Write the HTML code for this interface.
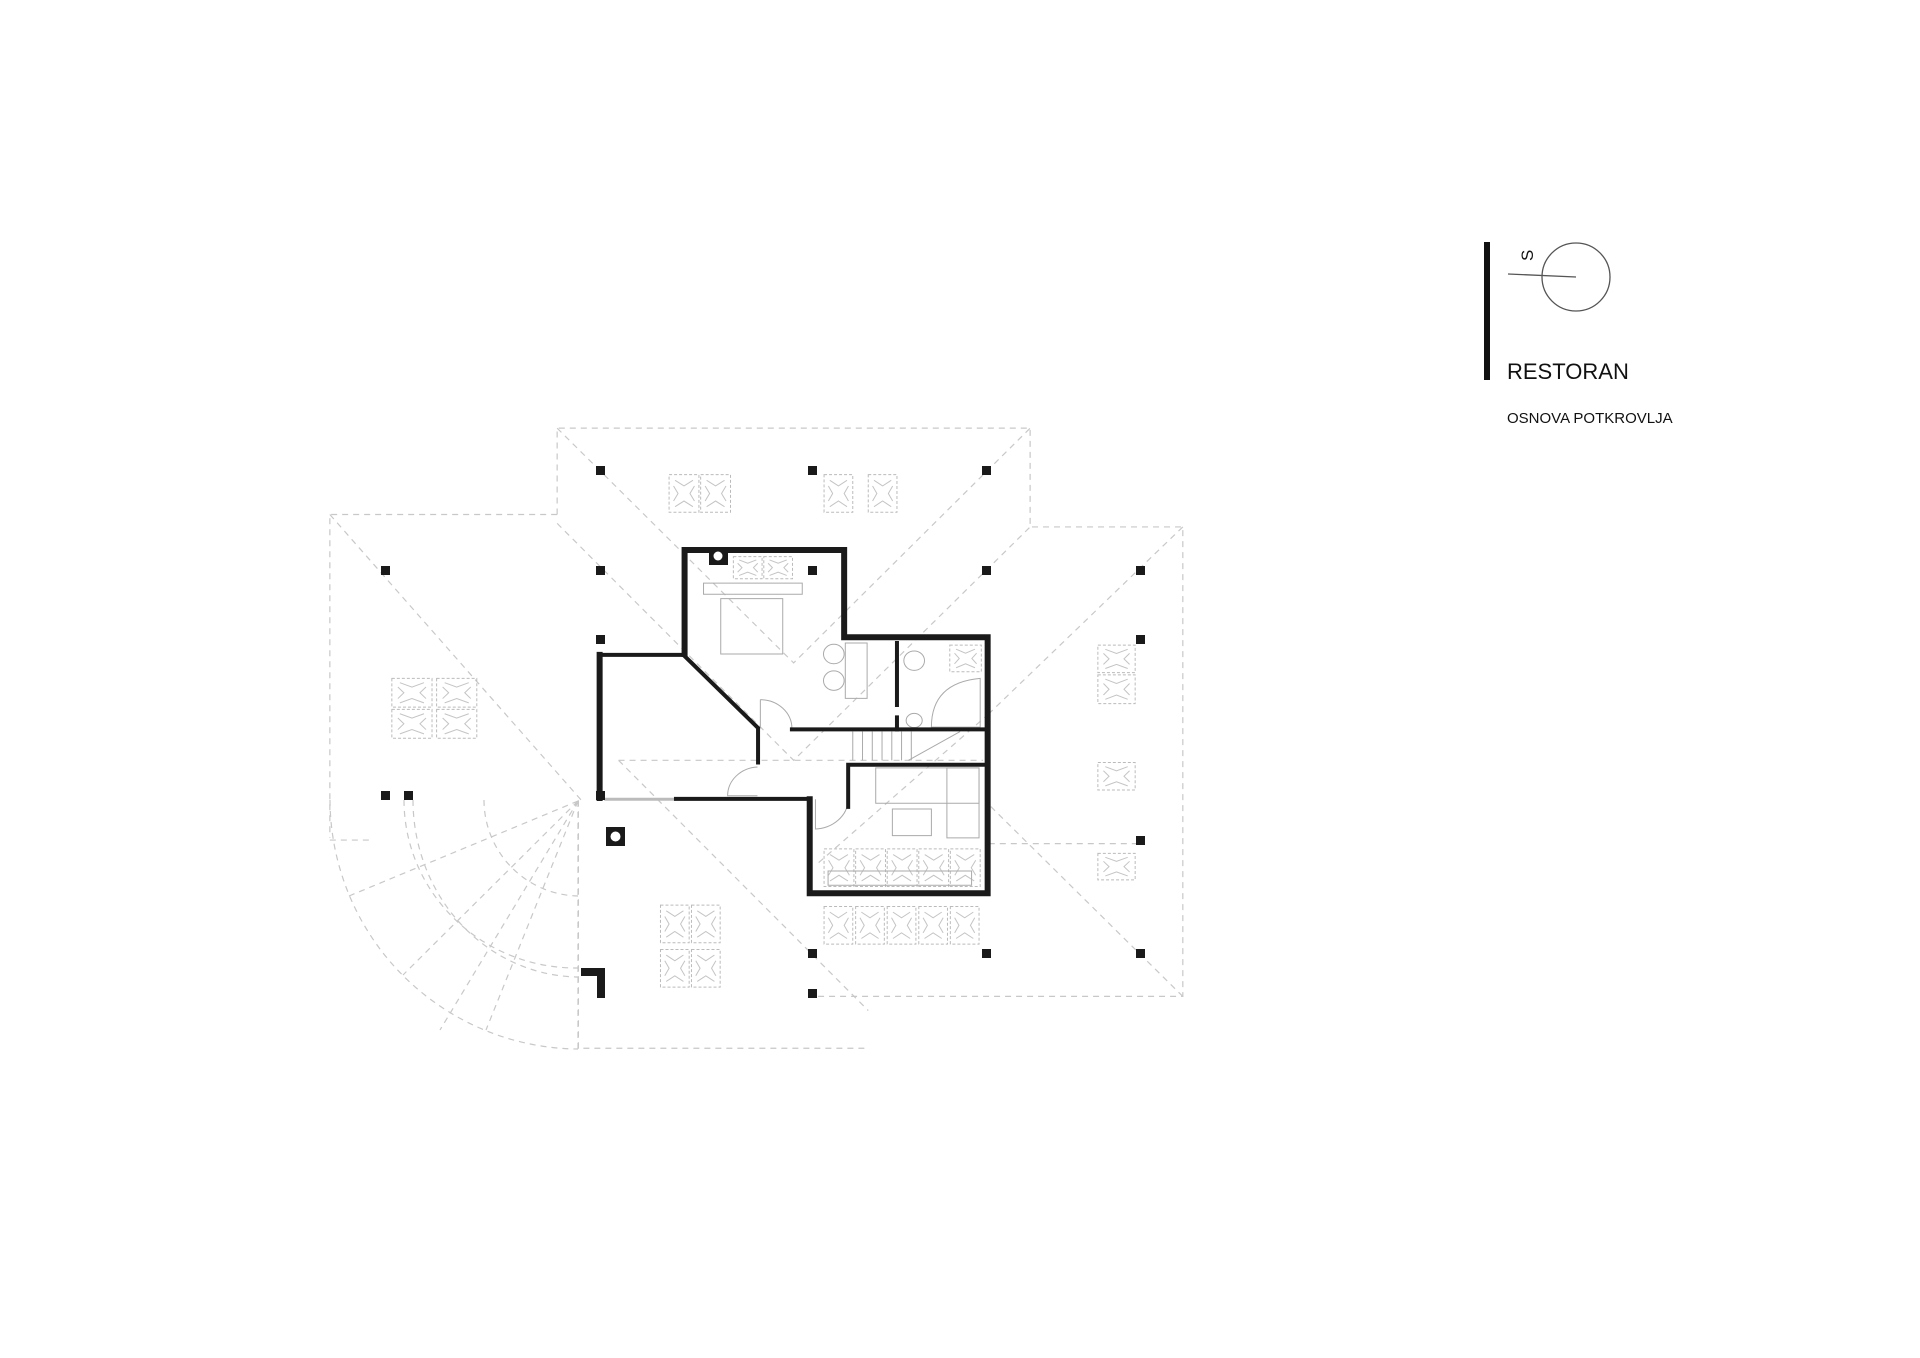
<!DOCTYPE html>
<html><head><meta charset="utf-8"><style>
html,body{margin:0;padding:0;background:#fff;}
svg{display:block;}
text{font-family:"Liberation Sans",sans-serif;fill:#111;}
</style></head><body>
<svg width="1920" height="1358" viewBox="0 0 1920 1358" xmlns="http://www.w3.org/2000/svg">
<defs>
<g id="fb">
 <rect x="0" y="0" width="1" height="1" fill="none" stroke="#bbb" stroke-width="1" stroke-dasharray="3 2" vector-effect="non-scaling-stroke"/>
 <path d="M0.2,0.15 L0.5,0.3 L0.8,0.15 M0.2,0.85 L0.5,0.7 L0.8,0.85 M0.15,0.3 L0.3,0.5 L0.15,0.7 M0.85,0.3 L0.7,0.5 L0.85,0.7" fill="none" stroke="#c4c4c4" stroke-width="1" vector-effect="non-scaling-stroke"/>
</g>
</defs>
<rect width="1920" height="1358" fill="#fff"/>

<g transform="translate(300,403.8) scale(0.574,0.4429)">
 <g fill="none" stroke="#c8c8c8" stroke-width="1.2" stroke-dasharray="6 5" vector-effect="non-scaling-stroke">
  <path vector-effect="non-scaling-stroke" d="M448,250 V55 H1272 V278 H1538 V1338 H892"/>
  <path vector-effect="non-scaling-stroke" d="M448,250 H52 V980"/>
  <path vector-effect="non-scaling-stroke" d="M485,895 V1455 H990"/>
  <path vector-effect="non-scaling-stroke" d="M1200,993 H1463"/>
  <path vector-effect="non-scaling-stroke" d="M555,805 H1190"/>
  <path vector-effect="non-scaling-stroke" d="M448,55 L860,585 L1272,55"/>
  <path vector-effect="non-scaling-stroke" d="M448,270 L860,805 L1272,278"/>
  <path vector-effect="non-scaling-stroke" d="M52,250 L490,895"/>
  <path vector-effect="non-scaling-stroke" d="M555,805 L990,1370"/>
  <path vector-effect="non-scaling-stroke" d="M1538,278 L1200,700"/>
  <path vector-effect="non-scaling-stroke" d="M1538,1338 L1200,905"/>
  <path vector-effect="non-scaling-stroke" d="M1200,700 L900,1040"/>
  <path vector-effect="non-scaling-stroke" d="M52,985 H125"/>
 </g>

 <g>
  <use href="#fb" transform="translate(643,160) scale(52,85)"/>
  <use href="#fb" transform="translate(698,160) scale(52,85)"/>
  <use href="#fb" transform="translate(913,160) scale(50,85)"/>
  <use href="#fb" transform="translate(990,160) scale(50,85)"/>
  <use href="#fb" transform="translate(160,620) scale(70,65)"/>
  <use href="#fb" transform="translate(238,620) scale(70,65)"/>
  <use href="#fb" transform="translate(160,690) scale(70,65)"/>
  <use href="#fb" transform="translate(238,690) scale(70,65)"/>
  <use href="#fb" transform="translate(1390,545) scale(65,62)"/>
  <use href="#fb" transform="translate(1390,612) scale(65,65)"/>
  <use href="#fb" transform="translate(1390,810) scale(65,62)"/>
  <use href="#fb" transform="translate(1390,1015) scale(65,60)"/>
  <use href="#fb" transform="translate(628,1132) scale(50,85)"/>
  <use href="#fb" transform="translate(682,1132) scale(50,85)"/>
  <use href="#fb" transform="translate(628,1232) scale(50,85)"/>
  <use href="#fb" transform="translate(682,1232) scale(50,85)"/>
  <use href="#fb" transform="translate(913,1135) scale(50,85)"/>
  <use href="#fb" transform="translate(968,1135) scale(50,85)"/>
  <use href="#fb" transform="translate(1023,1135) scale(50,85)"/>
  <use href="#fb" transform="translate(1078,1135) scale(50,85)"/>
  <use href="#fb" transform="translate(1133,1135) scale(50,85)"/>
  <use href="#fb" transform="translate(913,1005) scale(52,85)"/>
  <use href="#fb" transform="translate(968,1005) scale(52,85)"/>
  <use href="#fb" transform="translate(1023,1005) scale(52,85)"/>
  <use href="#fb" transform="translate(1078,1005) scale(52,85)"/>
  <use href="#fb" transform="translate(1133,1005) scale(52,85)"/>
  <use href="#fb" transform="translate(755,345) scale(50,50)"/>
  <use href="#fb" transform="translate(808,345) scale(50,50)"/>
  <use href="#fb" transform="translate(1132,545) scale(55,60)"/>
 </g>
 <g fill="none" stroke="#aaa" stroke-width="1" vector-effect="non-scaling-stroke">
  <rect vector-effect="non-scaling-stroke" x="703" y="405" width="172" height="25"/>
  <rect vector-effect="non-scaling-stroke" x="733" y="440" width="108" height="125"/>
  <rect vector-effect="non-scaling-stroke" x="950" y="540" width="38" height="125"/>
  <rect vector-effect="non-scaling-stroke" x="1003" y="822" width="180" height="80"/>
  <rect vector-effect="non-scaling-stroke" x="1127" y="822" width="56" height="158"/>
  <rect vector-effect="non-scaling-stroke" x="1032" y="915" width="68" height="60"/>
  <rect vector-effect="non-scaling-stroke" x="920" y="1055" width="250" height="32"/>
  <path vector-effect="non-scaling-stroke" d="M963,740 V805 M980,740 V805 M997,740 V805 M1014,740 V805 M1031,740 V805 M1048,740 V805 M1065,740 V805 M1060,805 L1150,740"/>
  <path vector-effect="non-scaling-stroke" d="M1185,620 Q1100,630 1100,730 H1185 Z"/>
  <ellipse vector-effect="non-scaling-stroke" cx="1070" cy="580" rx="18" ry="22"/>
  <ellipse vector-effect="non-scaling-stroke" cx="1070" cy="715" rx="14" ry="16"/>
  <ellipse vector-effect="non-scaling-stroke" cx="930" cy="565" rx="18" ry="22"/>
  <ellipse vector-effect="non-scaling-stroke" cx="930" cy="625" rx="18" ry="22"/>
  <path vector-effect="non-scaling-stroke" d="M802,668 V733 M802,668 A55,65 0 0 1 857,733"/>
  <path vector-effect="non-scaling-stroke" d="M797,820 A55,65 0 0 0 745,885 H797"/>
  <path vector-effect="non-scaling-stroke" d="M898,893 V960 A60,68 0 0 0 955,895"/>
 </g>
 <path d="M530,893 H655" stroke="#bbb" stroke-width="3" vector-effect="non-scaling-stroke" fill="none"/>

 <g fill="none" stroke="#1a1a1a" stroke-linejoin="miter" stroke-linecap="square">
  <path vector-effect="non-scaling-stroke" stroke-width="6" d="M670,565 V330 H948 V527 H1198 V1105 H888 V893"/>
  <path vector-effect="non-scaling-stroke" stroke-width="6" d="M522,890 V567"/>
  <path vector-effect="non-scaling-stroke" stroke-width="4" d="M522,567 H668 L798,732 V810"/>
  <path vector-effect="non-scaling-stroke" stroke-width="4" d="M655,892 H888"/>
  <path vector-effect="non-scaling-stroke" stroke-width="4" d="M857,735 H1198"/>
  <path vector-effect="non-scaling-stroke" stroke-width="4" d="M1040,540 V680 M1040,708 V735"/>
  <path vector-effect="non-scaling-stroke" stroke-width="4" d="M955,910 V815 H1198"/>
 </g>
</g>

<g fill="none" stroke="#c8c8c8" stroke-width="1.2" stroke-dasharray="6 5">
 <path d="M330,800 A250,250 0 0 0 578,1049"/>
 <path d="M404,800 A172,168 0 0 0 578,968"/>
 <path d="M413,800 A167,177 0 0 0 578,977"/>
 <path d="M484,800 A96,96 0 0 0 578,896"/>
 <path d="M578,801 L349,896 M578,801 L403,975 M578,801 L486,1030 M578,801 L440,1030"/>
 <path d="M578,801 L578,1049"/>
</g>

<g fill="#1a1a1a">
 <rect x="596" y="466" width="9" height="9"/>
 <rect x="808" y="466" width="9" height="9"/>
 <rect x="982" y="466" width="9" height="9"/>
 <rect x="381" y="566" width="9" height="9"/>
 <rect x="596" y="566" width="9" height="9"/>
 <rect x="808" y="566" width="9" height="9"/>
 <rect x="982" y="566" width="9" height="9"/>
 <rect x="1136" y="566" width="9" height="9"/>
 <rect x="596" y="635" width="9" height="9"/>
 <rect x="1136" y="635" width="9" height="9"/>
 <rect x="381" y="791" width="9" height="9"/>
 <rect x="404" y="791" width="9" height="9"/>
 <rect x="596" y="791" width="9" height="9"/>
 <rect x="1136" y="836" width="9" height="9"/>
 <rect x="808" y="949" width="9" height="9"/>
 <rect x="982" y="949" width="9" height="9"/>
 <rect x="1136" y="949" width="9" height="9"/>
 <rect x="808" y="989" width="9" height="9"/>
 <path d="M581,968 H605 V998 H597 V976 H581 Z"/>
 <rect x="606" y="827" width="19" height="19"/>
 <rect x="709" y="551" width="19" height="14"/>
</g>
<circle cx="615.5" cy="836.5" r="5" fill="#fff"/>
<circle cx="718" cy="556" r="4.5" fill="#fff"/>

<rect x="1484" y="242" width="6" height="138" fill="#111"/>
<circle cx="1576" cy="277" r="34" fill="none" stroke="#555" stroke-width="1.3"/>
<line x1="1508" y1="274" x2="1576" y2="277" stroke="#555" stroke-width="1.3"/>
<text x="0" y="0" font-size="17" transform="translate(1533,261) rotate(-90)">S</text>
<text x="1507" y="379" font-size="22">RESTORAN</text>
<text x="1507" y="423" font-size="15">OSNOVA POTKROVLJA</text>
</svg>
</body></html>
